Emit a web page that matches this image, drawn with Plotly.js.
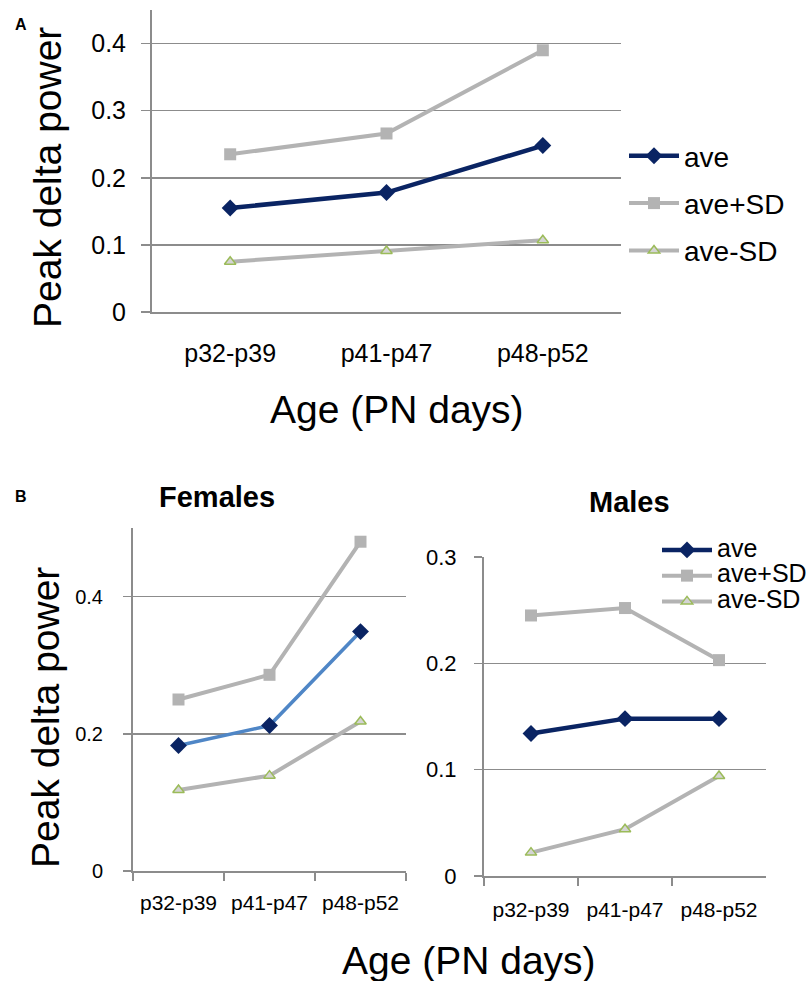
<!DOCTYPE html>
<html>
<head>
<meta charset="utf-8">
<script src="https://cdn.plot.ly/plotly-3.0.1.min.js"></script>
<style>
  html, body { margin: 0; padding: 0; background: #ffffff; }
  #chart { width: 812px; height: 981px; }
</style>
</head>
<body>
<div id="chart"></div>
<script>
// Age groups (postnatal days)
const ageGroups = ["p32-p39", "p41-p47", "p48-p52"];

// Panel A: all animals
const allAve   = [0.155, 0.178, 0.248];
const allPlus  = [0.235, 0.266, 0.390];
const allMinus = [0.075, 0.091, 0.107];

// Panel B: females
const femAve   = [0.183, 0.212, 0.349];
const femPlus  = [0.250, 0.286, 0.480];
const femMinus = [0.118, 0.139, 0.218];

// Panel B: males
const maleAve   = [0.134, 0.148, 0.148];
const malePlus  = [0.245, 0.252, 0.203];
const maleMinus = [0.022, 0.044, 0.094];

const seriesNames = ["ave", "ave+SD", "ave-SD"];

const W = 812, H = 981;
const FONT = "Liberation Sans, Arial, Helvetica, sans-serif";
const NAVY = "#0a2463";
const LIGHTBLUE = "#4f86c6";
const GRAY = "#b3b3b3";
const AXIS = "#8c8c8c";
const GREEN = "#9bbb59";

const px = x => x / W;
const py = y => 1 - y / H;

function makeSeries(vals, kind, xa, ya, legend, show, opts) {
  opts = opts || {};
  const label = opts.labelSize
    ? '<span style="font-size:' + opts.labelSize + 'px">' + seriesNames[kind] + '</span>'
    : seriesNames[kind];
  const base = { x: ageGroups, y: vals, type: "scatter", mode: "lines+markers",
                 xaxis: xa, yaxis: ya, legend: legend, showlegend: show, cliponaxis: false,
                 name: label, legendgroup: legend + "-" + kind, legendrank: kind + 1 };
  if (kind === 0) {
    return Object.assign(base, {
      line: { color: opts.lineColor || NAVY, width: opts.lineColor ? 3.5 : 4.5 },
      marker: { symbol: "diamond", size: 13, color: NAVY, line: { width: 0 } } });
  }
  if (kind === 1) {
    return Object.assign(base, {
      line: { color: GRAY, width: 4 },
      marker: { symbol: "square", size: 12, color: GRAY, line: { width: 0 } } });
  }
  return Object.assign(base, {
    line: { color: GRAY, width: 4 },
    marker: { symbol: "triangle-up", size: 10, color: "#d4d4d4", line: { color: GREEN, width: 1.5 } } });
}

const traces = [
  makeSeries(allAve, 0, "x", "y", "legend", true),
  makeSeries(allPlus, 1, "x", "y", "legend", true),
  makeSeries(allMinus, 2, "x", "y", "legend", true),
  makeSeries(femPlus, 1, "x2", "y2", "legend", false),
  makeSeries(femMinus, 2, "x2", "y2", "legend", false),
  makeSeries(femAve, 0, "x2", "y2", "legend", false, { lineColor: LIGHTBLUE }),
  makeSeries(maleAve, 0, "x3", "y3", "legend2", true, { labelSize: 25 }),
  makeSeries(malePlus, 1, "x3", "y3", "legend2", true, { labelSize: 25 }),
  makeSeries(maleMinus, 2, "x3", "y3", "legend2", true, { labelSize: 25 })
];

function catAxis(domain, anchor, fontSize, standoff, boundaryTicks) {
  return {
    domain: domain, anchor: anchor, type: "category", range: [-0.5, 2.5],
    showline: true, linecolor: AXIS, linewidth: 2,
    showgrid: false, zeroline: false,
    ticks: boundaryTicks ? "outside" : "", tickson: boundaryTicks ? "boundaries" : "labels",
    ticklen: 8, tickwidth: 2, tickcolor: AXIS,
    tickfont: { family: FONT, size: fontSize, color: "#000" },
    ticklabelstandoff: standoff, fixedrange: true
  };
}
function valAxis(domain, anchor, range, dtick, fontSize, ticklen, standoff) {
  return {
    domain: domain, anchor: anchor, range: range, dtick: dtick, tick0: 0,
    showline: true, linecolor: AXIS, linewidth: 2,
    showgrid: true, gridcolor: AXIS, gridwidth: 1.5, zeroline: false,
    ticks: "outside", ticklen: ticklen, tickwidth: 1.5, tickcolor: AXIS,
    tickfont: { family: FONT, size: fontSize, color: "#000" },
    ticklabelstandoff: standoff, fixedrange: true
  };
}

function note(text, x, y, size, opts) {
  return Object.assign({ text: text, x: px(x), y: py(y), xref: "paper", yref: "paper",
    xanchor: "center", yanchor: "middle", showarrow: false,
    font: { family: FONT, size: size, color: "#000" } }, opts || {});
}

const layout = {
  width: W, height: H,
  margin: { l: 0, r: 0, t: 0, b: 0 },
  paper_bgcolor: "#ffffff", plot_bgcolor: "rgba(0,0,0,0)",
  font: { family: FONT, color: "#000" },
  xaxis:  catAxis([px(152), px(621)], "y", 25, 18, false),
  yaxis:  valAxis([py(312), py(10)], "x", [0, 0.45], 0.1, 25, 9, 10),
  xaxis2: catAxis([px(133), px(406)], "y2", 21, 12, true),
  yaxis2: valAxis([py(871), py(528)], "x2", [0, 0.5], 0.2, 20, 8, 16),
  xaxis3: catAxis([px(484), px(766)], "y3", 21, 14, true),
  yaxis3: valAxis([py(876), py(557)], "x3", [0, 0.3], 0.1, 22, 8, 13),
  legend: {
    x: px(624), y: py(131), xanchor: "left", yanchor: "top",
    bgcolor: "rgba(255,255,255,0)", borderwidth: 0,
    font: { family: FONT, size: 28, color: "#000" },
    itemwidth: 50, tracegroupgap: 8, traceorder: "grouped"
  },
  legend2: {
    x: px(657), y: py(532), xanchor: "left", yanchor: "top",
    bgcolor: "#ffffff", borderwidth: 0,
    font: { family: FONT, size: 17.5, color: "#000" },
    itemwidth: 50, tracegroupgap: 0, traceorder: "grouped"
  },
  annotations: [
    note("<b>A</b>", 21, 24, 16),
    note("<b>B</b>", 21, 496, 16),
    note("Peak delta power", 47, 178, 39, { textangle: -90 }),
    note("Age (PN days)", 397, 410, 39),
    note("<b>Females</b>", 217, 497, 29),
    note("<b>Males</b>", 629, 502, 29),
    note("Peak delta power", 45, 718, 39, { textangle: -90 }),
    note("Age (PN days)", 469, 960, 39)
  ]
};

Plotly.newPlot("chart", traces, layout, { staticPlot: true, displayModeBar: false });
</script>
</body>
</html>
